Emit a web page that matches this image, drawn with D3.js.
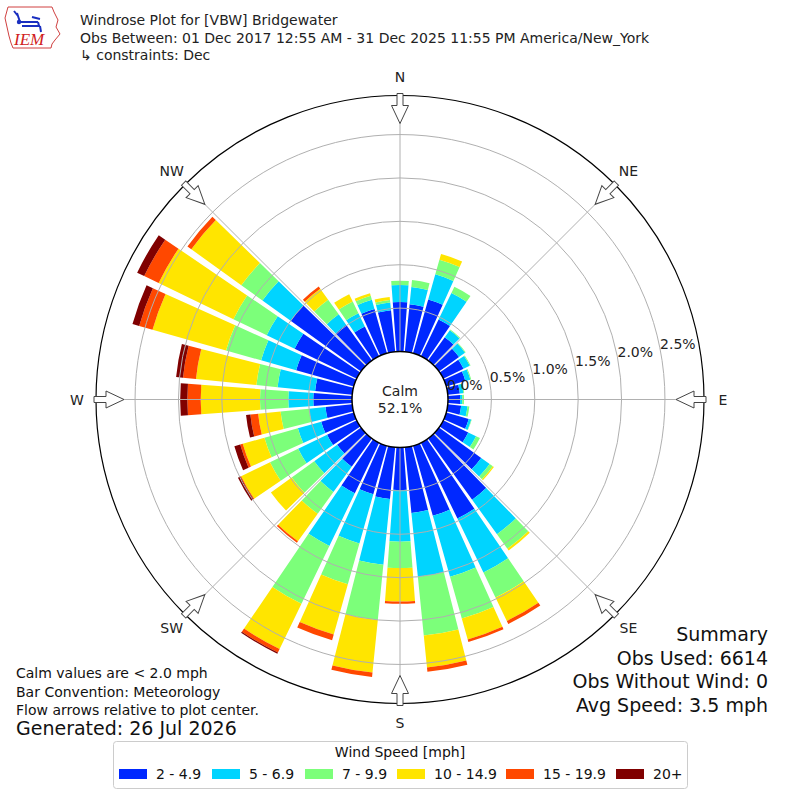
<!DOCTYPE html>
<html>
<head>
<meta charset="utf-8">
<script src="https://cdn.jsdelivr.net/npm/d3@7"></script>
<style>
  html, body { margin: 0; padding: 0; background: #fff; }
  svg { display: block; font-family: "DejaVu Sans", sans-serif; }
</style>
</head>
<body>
<svg id="chart" width="800" height="800"></svg>
<script>
// ---------------- DATA ----------------
const directions = [0,10,20,30,40,50,60,70,80,90,100,110,120,130,140,150,160,170,
                    180,190,200,210,220,230,240,250,260,270,280,290,300,310,320,330,340,350];
const speedBins = ["2 - 4.9", "5 - 6.9", "7 - 9.9", "10 - 14.9", "15 - 19.9", "20+"];
const binColors = ["#0028ff", "#00d4ff", "#7cff7a", "#ffe500", "#ff4800", "#800000"];

// percent of observations, per direction, per speed bin
const spd2to5 = [0.57,0.55,0.645,0.47,0.33,0.285,0.26,0.23,0.14,0.14,0.155,0.27,0.32,0.60,0.87,0.97,0.84,0.76,
                 0.49,0.60,0.58,0.645,0.40,0.34,0.38,0.39,0.31,0.446,0.43,0.69,0.795,1.0,0.51,0.38,0.53,0.48];
const spd5to7 = [0.196,0.20,0.30,0.34,0.10,0.085,0.08,0.06,0.04,0.025,0.073,0.03,0.10,0.12,0.49,0.69,0.73,0.74,
                 0.595,0.76,0.59,0.675,0.36,0.325,0.37,0.28,0.19,0.288,0.435,0.42,0.357,0.40,0.146,0.17,0.11,0.09];
const spd7to10 = [0.05,0.08,0.175,0.08,0.01,0.01,0.01,0.01,0.01,0.02,0.022,0.005,0.05,0.045,0.205,0.32,0.50,0.68,
                  0.305,0.64,0.49,0.74,0.31,0.32,0.36,0.40,0.33,0.326,0.245,0.42,0.426,0.30,0.208,0.15,0.05,0.03];
const spd10to15 = [0,0,0.07,0,0,0,0,0,0,0,0,0,0,0.015,0.025,0.30,0.25,0.37,
                   0.386,0.61,0.60,0.58,0.39,0.295,0.37,0.26,0.26,0.683,0.70,0.88,0.957,0.71,0.156,0.095,0.03,0.035];
const spd15to20 = [0,0,0,0,0,0,0,0,0,0,0,0,0,0,0,0.04,0.03,0.05,
                   0.024,0.05,0.07,0.045,0.02,0,0.01,0.03,0.09,0.154,0.15,0.16,0.185,0.055,0.03,0,0,0];
const spd20plus = [0,0,0,0,0,0,0,0,0,0,0,0,0,0,0,0,0,0,
                   0,0,0,0.015,0,0,0.03,0.07,0.05,0.083,0.08,0.08,0.09,0,0,0,0,0];

const rTicks = [0.0, 0.5, 1.0, 1.5, 2.0, 2.5];
const rTickLabels = ["0.0%", "0.5%", "1.0%", "1.5%", "2.0%", "2.5%"];
const compass = [{a:0,t:"N"},{a:45,t:"NE"},{a:90,t:"E"},{a:135,t:"SE"},
                 {a:180,t:"S"},{a:225,t:"SW"},{a:270,t:"W"},{a:315,t:"NW"}];
const calmPct = "52.1%";
const titleLines = ["Windrose Plot for [VBW] Bridgewater",
                    "Obs Between: 01 Dec 2017 12:55 AM - 31 Dec 2025 11:55 PM America/New_York",
                    " \u21B3 constraints: Dec"];
const noteLines = ["Calm values are < 2.0 mph", "Bar Convention: Meteorology",
                   "Flow arrows relative to plot center."];
const generated = "Generated: 26 Jul 2026";
const summaryLines = ["Summary", "Obs Used: 6614", "Obs Without Wind: 0", "Avg Speed: 3.5 mph"];
const rMax = 2.95;

// ---------------- LAYOUT ----------------
const svg = d3.select("#chart");
const cx = 400, cy = 399.5;
const calmR = 48, outerR = 304;
const barWidth = 8.5;
const fs = 14;

const r = d3.scaleLinear().domain([0, rMax]).range([calmR, outerR]);
const ang = d3.scaleLinear().domain([0, 360]).range([0, 2 * Math.PI]);

const keys = ["b0","b1","b2","b3","b4","b5"];
const series = [spd2to5, spd5to7, spd7to10, spd10to15, spd15to20, spd20plus];
const table = directions.map((d, i) => {
  const row = { dir: d };
  keys.forEach((k, j) => row[k] = series[j][i]);
  return row;
});
const stacked = d3.stack().keys(keys)(table);

const g = svg.append("g").attr("transform", `translate(${cx},${cy})`);

// bars
const arc = d3.arc();
stacked.forEach((s, j) => {
  g.append("g").selectAll("path")
    .data(s.filter(d => d[1] - d[0] > 0))
    .join("path")
    .attr("d", d => arc({
      innerRadius: r(d[0]),
      outerRadius: r(d[1]),
      startAngle: ang(d.data.dir - barWidth / 2),
      endAngle: ang(d.data.dir + barWidth / 2)
    }))
    .attr("fill", binColors[j]);
});

// grid rings
g.append("g").selectAll("circle")
  .data(rTicks.slice(1))
  .join("circle")
  .attr("r", d => r(d))
  .attr("fill", "none")
  .attr("stroke", "#b0b0b0")
  .attr("stroke-width", 1);

// spokes
g.append("g").selectAll("line")
  .data(compass)
  .join("line")
  .attr("x1", 0).attr("y1", 0)
  .attr("x2", d => outerR * Math.sin(ang(d.a)))
  .attr("y2", d => -outerR * Math.cos(ang(d.a)))
  .attr("stroke", "#b0b0b0")
  .attr("stroke-width", 1);

// outer circle
g.append("circle").attr("r", outerR).attr("fill", "none")
  .attr("stroke", "#000").attr("stroke-width", 1.2);

// calm circle
g.append("circle").attr("r", calmR).attr("fill", "#fff")
  .attr("stroke", "#000").attr("stroke-width", 1.5);
g.append("text").attr("x", 0).attr("y", -3.5).attr("text-anchor", "middle")
  .attr("font-size", fs).attr("fill", "#222").text("Calm");
g.append("text").attr("x", 0).attr("y", 13.5).attr("text-anchor", "middle")
  .attr("font-size", fs).attr("fill", "#222").text(calmPct);

// radial tick labels
const labAng = 79;
g.append("g").selectAll("text")
  .data(rTicks)
  .join("text")
  .attr("x", d => r(d) * Math.sin(ang(labAng)))
  .attr("y", d => -r(d) * Math.cos(ang(labAng)))
  .attr("font-size", fs)
  .attr("fill", "#222")
  .text((d, i) => rTickLabels[i]);

// flow arrows
const arrowPts = [[-3,-306],[3,-306],[3,-294],[8.5,-294],[0,-276],[-8.5,-294],[-3,-294]];
g.append("g").selectAll("path")
  .data(compass)
  .join("path")
  .attr("d", "M" + arrowPts.map(p => p.join(",")).join("L") + "Z")
  .attr("transform", d => `rotate(${d.a})`)
  .attr("fill", "#fff")
  .attr("stroke", "#444")
  .attr("stroke-width", 1);

// compass labels
g.append("g").selectAll("text")
  .data(compass)
  .join("text")
  .attr("x", d => 323 * Math.sin(ang(d.a)))
  .attr("y", d => -323 * Math.cos(ang(d.a)))
  .attr("text-anchor", "middle")
  .attr("dominant-baseline", "central")
  .attr("font-size", fs)
  .attr("fill", "#222")
  .text(d => d.t);

// ---------------- TITLE ----------------
titleLines.forEach((t, i) => {
  svg.append("text").attr("x", 80).attr("y", 25 + i * 17.5)
    .attr("font-size", fs).attr("fill", "#222").text(t);
});

// IEM logo (simplified)
const logo = svg.append("g");
logo.append("path")
  .attr("d", "M8,7 L52,7 L54,12 L58,20 L56,27 L60,34 L55,40 L52,44 L51,48 L13,48 L11,43 L9,36 L7,27 L5,18 Z")
  .attr("fill", "none").attr("stroke", "#d04040").attr("stroke-width", 1);
logo.append("path")
  .attr("d", "M14,11 L18,16 M17,13 L20,22 M19,22 L38,22 M32,17 L40,19 M38,22 L39,26 M22,26 L40,26 M40,26 L41,32")
  .attr("fill", "none").attr("stroke", "#1a2fc0").attr("stroke-width", 2);
logo.append("circle").attr("cx", 19).attr("cy", 22).attr("r", 2.2).attr("fill", "#1a2fc0");
logo.append("text").attr("x", 14).attr("y", 45)
  .attr("font-family", "Liberation Serif, serif").attr("font-style", "italic")
  .attr("font-size", 17).attr("fill", "#d02020").text("IEM");

// ---------------- NOTES ----------------
noteLines.forEach((t, i) => {
  svg.append("text").attr("x", 16).attr("y", 678 + i * 18.5)
    .attr("font-size", fs).attr("fill", "#111").text(t);
});
svg.append("text").attr("x", 16).attr("y", 735)
  .attr("font-size", 19).attr("fill", "#111").text(generated);

summaryLines.forEach((t, i) => {
  svg.append("text").attr("x", 768).attr("y", 641 + i * 23.7)
    .attr("text-anchor", "end")
    .attr("font-size", 19).attr("fill", "#111").text(t);
});

// ---------------- LEGEND ----------------
const leg = svg.append("g");
leg.append("rect").attr("x", 113.5).attr("y", 741.5).attr("width", 574).attr("height", 47)
  .attr("rx", 3).attr("fill", "#fff").attr("stroke", "#cccccc").attr("stroke-width", 1);
leg.append("text").attr("x", 400).attr("y", 757).attr("text-anchor", "middle")
  .attr("font-size", fs).attr("fill", "#111").text("Wind Speed [mph]");
const legX = [119, 212, 305, 397, 506, 616];
speedBins.forEach((s, i) => {
  leg.append("rect").attr("x", legX[i]).attr("y", 769).attr("width", 28).attr("height", 10)
    .attr("fill", binColors[i]);
  leg.append("text").attr("x", legX[i] + 37).attr("y", 779)
    .attr("font-size", fs).attr("fill", "#111").text(s);
});
</script>
</body>
</html>
